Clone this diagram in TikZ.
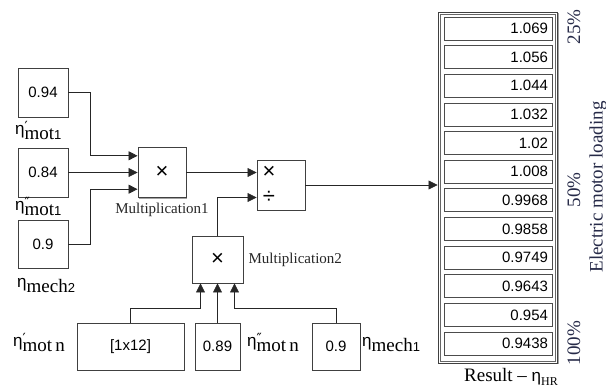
\documentclass[tikz,border=0pt]{standalone}
\usepackage{fontspec}
\setmainfont{Liberation Serif}
\setsansfont{Liberation Sans}
\newfontfamily\tickfont{DejaVu Sans}
\usetikzlibrary{arrows.meta,positioning,shadows}
\definecolor{labelInk}{RGB}{38,42,72}
\newcommand{\valfont}{\sffamily\fontsize{15}{15}\selectfont}
\newcommand{\opfont}{\sffamily\fontsize{22}{22}\selectfont}
\newcommand{\etalab}[3]{{\sffamily\fontsize{17}{17}\selectfont η}\rlap{\raisebox{3pt}{\tickfont\fontsize{14}{14}\selectfont #1}}\raisebox{-5pt}{\fontsize{19}{19}\selectfont #2{\sffamily\fontsize{13}{13}\selectfont #3}}}

\begin{document}
\begin{tikzpicture}[x=1pt,y=-1pt,
  blk/.style={draw=black!75,line width=0.9pt,fill=white,inner sep=0pt,
    drop shadow={shadow xshift=1.3pt,shadow yshift=-1.3pt,fill=black!60,opacity=0.6},
    font=\valfont},
  disp/.style={draw=black!75,line width=0.9pt,fill=white,
    drop shadow={shadow xshift=1.5pt,shadow yshift=-1.5pt,fill=black!60,opacity=0.6}},
  cell/.style={draw=black!70,line width=0.8pt,fill=white,text width=100pt,align=right,
    inner xsep=4pt,minimum height=23pt,font=\valfont},
  wire/.style={draw=black!85,line width=0.7pt},
  sig/.style={wire,-{Triangle[length=9pt,width=9pt]}},
  blkcap/.style={font=\fontsize{15}{15}\selectfont,text=black!85,inner sep=0pt},
  etal/.style={anchor=base west,inner sep=0pt},
  side/.style={rotate=90,font=\fontsize{19}{19}\selectfont,text=labelInk,inner sep=0pt}
]
\useasboundingbox (0,0) rectangle (606,390);

% constant blocks
\node[blk,minimum width=50pt,minimum height=49pt] (k1) at (43,92.5) {0.94};
\node[blk,minimum width=50pt,minimum height=49pt] (k2) at (43,172.5) {0.84};
\node[blk,minimum width=50pt,minimum height=48pt] (k3) at (43,244) {0.9};
\node[blk,minimum width=107pt,minimum height=47pt] (k4) at (130.5,346.5) {[1x12]};
\node[blk,minimum width=45pt,minimum height=47pt] (k5) at (217.5,346.5) {0.89};
\node[blk,minimum width=48pt,minimum height=47pt] (k6) at (336,346.5) {0.9};

% operation blocks
\node[blk,minimum width=48pt,minimum height=50pt,font=\opfont] (mul1) at (162,172.5) {×};
\node[blk,minimum width=51pt,minimum height=47pt,font=\opfont] (mul2) at (217.5,259.5) {×};
\node[blk,minimum width=48pt,minimum height=50pt] (div) at (281,185) {};
\node[font=\opfont,inner sep=0pt] (dtimes) at (269,172.5) {×};
\node[font=\opfont,inner sep=0pt] (dover) at (269,197.5) {÷};

% result display
\node[disp,minimum width=119pt,minimum height=351pt] (disp) at (497.5,187.5) {};
\draw[black!60,line width=0.6pt] ([shift={(2.5pt,-2.5pt)}]disp.north west) rectangle ([shift={(-2.5pt,2.5pt)}]disp.south east);
\foreach \v [count=\i from 0] in {1.069,1.056,1.044,1.032,1.02,1.008,0.9968,0.9858,0.9749,0.9643,0.954,0.9438}
  \node[cell] (res\i) at (498,28.5+28.64*\i) {\v};

% ports
\coordinate (mul1a) at ([yshift=16.7pt]mul1.west);
\coordinate (mul1b) at (mul1.west);
\coordinate (mul1c) at ([yshift=-16.7pt]mul1.west);
\coordinate (diva) at ([yshift=12.5pt]div.west);
\coordinate (divb) at ([yshift=-12.5pt]div.west);
\coordinate (mul2a) at ([xshift=-17pt]mul2.south);
\coordinate (mul2b) at (mul2.south);
\coordinate (mul2c) at ([xshift=17pt]mul2.south);

% signals
\draw[sig] (k1.east) -- ++(22,0) |- (mul1a);
\draw[sig] (k2.east) -- (mul1b);
\draw[sig] (k3.east) -- ++(22,0) |- (mul1c);
\draw[sig] (mul1.east) -- (diva);
\draw[sig] (mul2.north) |- (divb);
\draw[sig] (k4.north) -- ++(0,-14) -| (mul2a);
\draw[sig] (k5.north) -- (mul2b);
\draw[sig] (k6.north) -- ++(0,-14) -| (mul2c);
\draw[sig] (div.east) -- (div.east -| disp.west);

% labels
\node[blkcap,below=5pt of mul1] (mul1lbl) {Multiplication1};
\node[blkcap,right=5pt of mul2] (mul2lbl) {Multiplication2};
\node[etal] (e1) at (15,135) {\etalab{′}{mot}{1}};
\node[etal] (e2) at (15,211) {\etalab{″}{mot}{1}};
\node[etal] (e3) at (17,288) {\etalab{}{mech}{2}};
\node[etal] (e4) at (13,347) {\etalab{′}{mot\,n}{}};
\node[etal] (e5) at (247,347) {\etalab{″}{mot\,n}{}};
\node[etal] (e6) at (362,347) {\etalab{}{mech}{1}};
\node[anchor=base,inner sep=0pt] (reslbl) at (511,382)
  {\fontsize{19}{19}\selectfont Result – {\sffamily\fontsize{17}{17}\selectfont η}\raisebox{-4pt}{\fontsize{12}{12}\selectfont HR}};
\node[side] (p25) at (574,27) {25\%};
\node[side] (p50) at (574,190) {50\%};
\node[side] (p100) at (574,343) {100\%};
\node[side] (axis) at (598,187) {Electric motor loading};
\end{tikzpicture}
\end{document}
